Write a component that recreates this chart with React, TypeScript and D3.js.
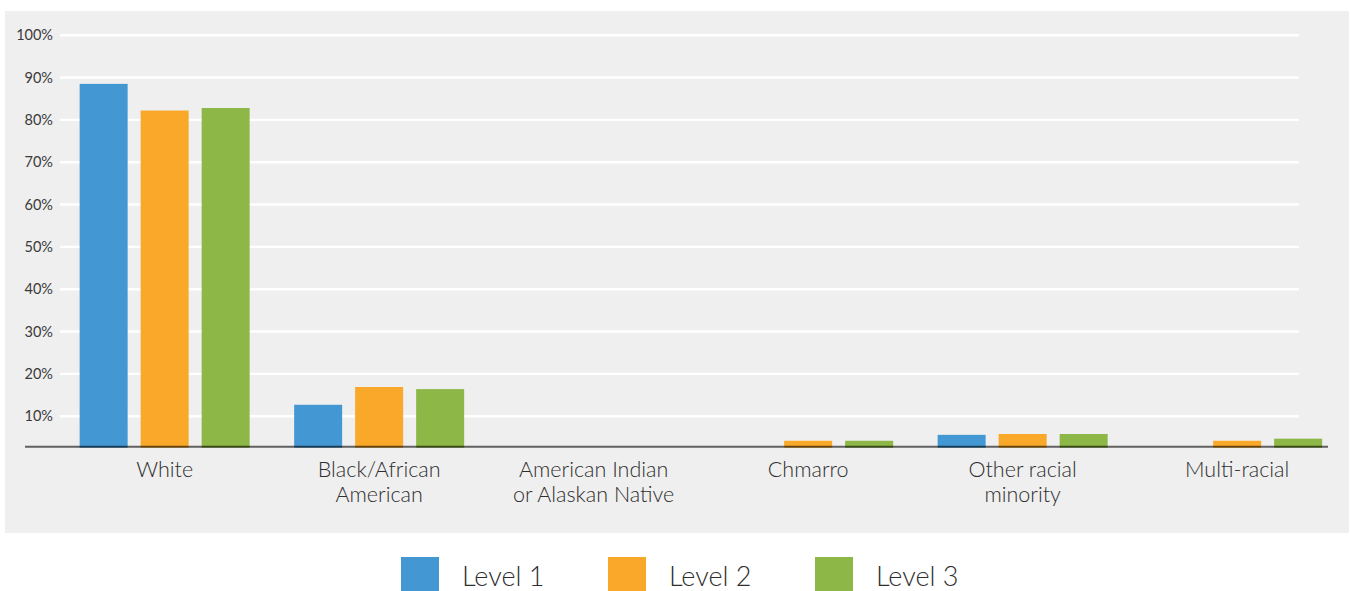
import React from "react";
import * as d3 from "d3";

// Categories along the x axis (multi-line labels split on "\n")
const categories = [
  "White",
  "Black/African\nAmerican",
  "American Indian\nor Alaskan Native",
  "Chmarro",
  "Other racial\nminority",
  "Multi-racial",
];

const levels = ["Level 1", "Level 2", "Level 3"];

// Share of respondents per category, one array per level
const level1 = [0.885, 0.127, 0, 0, 0.056, 0];
const level2 = [0.822, 0.169, 0, 0.042, 0.058, 0.042];
const level3 = [0.828, 0.164, 0, 0.042, 0.058, 0.047];

const yTicks = [0.1, 0.2, 0.3, 0.4, 0.5, 0.6, 0.7, 0.8, 0.9, 1.0];

// Value at which the category axis crosses the value axis
const axisFloor = 0.028;

const colors = ["#4398d3", "#f9a82a", "#8db747"];

const W = 1350;
const H = 591;
const FONT = "Lato, 'Open Sans', 'DejaVu Sans', sans-serif";

export default function App() {
  const series = [level1, level2, level3];

  const x0 = d3
    .scaleBand<string>()
    .domain(categories)
    .range([57.4, 57.4 + 6 * 214.5])
    .padding(0);

  const x1 = d3
    .scaleBand<string>()
    .domain(levels)
    .range([-85, 85])
    .paddingInner(13 / 61)
    .paddingOuter(0);

  const y = d3.scaleLinear().domain([axisFloor, 1]).range([446.7, 35.2]);

  const fmt = d3.format(".0%");

  const legendX = d3.scalePoint<string>().domain(levels).range([401, 815]);

  return (
    <svg
      width={W}
      height={H}
      style={{ position: "absolute", left: 0, top: 0, background: "#fff" }}
      fontFamily={FONT}
    >
      {/* plot panel */}
      <rect x={5} y={11} width={1344} height={522} fill="#efefef" />

      {/* horizontal gridlines */}
      {yTicks.map((t) => (
        <line
          key={"g" + t}
          x1={60}
          x2={1299}
          y1={y(t)}
          y2={y(t)}
          stroke="#ffffff"
          strokeWidth={2.4}
        />
      ))}

      {/* y tick labels */}
      {yTicks.map((t) => (
        <text
          key={"t" + t}
          x={53}
          y={y(t)}
          dy="0.35em"
          textAnchor="end"
          fontSize={14.5}
          fontWeight={400}
          fill="#3a3a3a"
        >
          {fmt(t)}
        </text>
      ))}

      {/* bars */}
      {categories.map((c, ci) => {
        const cx = (x0(c) ?? 0) + x0.bandwidth() / 2;
        return (
          <g key={c} transform={`translate(${cx},0)`}>
            {levels.map((lv, li) => {
              const v = series[li][ci];
              if (v <= axisFloor) return null;
              const top = y(v);
              return (
                <rect
                  key={lv}
                  x={x1(lv)}
                  y={top}
                  width={x1.bandwidth()}
                  height={y(axisFloor) + 1 - top}
                  fill={colors[li]}
                />
              );
            })}
          </g>
        );
      })}

      {/* category axis line */}
      <line
        x1={25}
        x2={1328}
        y1={y(axisFloor)}
        y2={y(axisFloor)}
        stroke="rgba(0,0,0,0.6)"
        strokeWidth={2}
      />

      {/* category labels */}
      {categories.map((c) => {
        const cx = (x0(c) ?? 0) + x0.bandwidth() / 2;
        return (
          <text
            key={"l" + c}
            x={cx}
            y={476.7}
            textAnchor="middle"
            fontSize={21.5}
            fontWeight={300}
            fill="#2e2e2e"
          >
            {c.split("\n").map((line, i) => (
              <tspan key={i} x={cx} dy={i === 0 ? 0 : 25}>
                {line}
              </tspan>
            ))}
          </text>
        );
      })}

      {/* legend */}
      {levels.map((lv, i) => {
        const lx = legendX(lv) ?? 0;
        return (
          <g key={"lg" + lv}>
            <rect x={lx} y={557} width={38} height={38} fill={colors[i]} />
            <text
              x={lx + 61}
              y={586}
              fontSize={27}
              fontWeight={300}
              fill="#2e2e2e"
            >
              {lv}
            </text>
          </g>
        );
      })}
    </svg>
  );
}
